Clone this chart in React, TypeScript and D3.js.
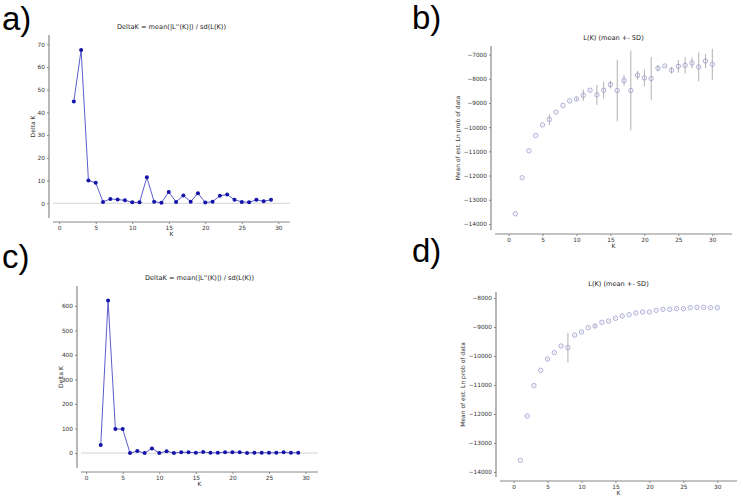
import { useEffect, useRef } from 'react';
import * as d3 from 'd3';

// Panel a) DeltaK, run 1
const kDeltaA = [2, 3, 4, 5, 6, 7, 8, 9, 10, 11, 12, 13, 14, 15, 16, 17, 18, 19, 20, 21, 22, 23, 24, 25, 26, 27, 28, 29];
const deltaA = [44.8, 67.5, 10, 9, 0.6, 1.9, 1.6, 1.3, 0.4, 0.4, 11.4, 0.7, 0.2, 5.0, 0.6, 3.4, 0.7, 4.4, 0.3, 0.7, 3.3, 3.8, 1.5, 0.6, 0.4, 1.5, 0.9, 1.5];

// Panel c) DeltaK, run 2
const kDeltaC = kDeltaA;
const deltaC = [33, 622, 98, 98, 0, 8, 0, 19, 0, 7, 0, 3, 3, 1, 4, 1, 1, 3, 3, 3, 0.5, 1, 1, 1, 1, 3, 1, 1];

// Panel b) L(K) mean +- SD
const kL = d3.range(1, 31);
const meanB = [-13580, -12090, -10977, -10343, -9904, -9682, -9380, -9104, -8914, -8832, -8679, -8473, -8666, -8473, -8238, -8486, -8073, -8486, -7854, -7965, -7990, -7565, -7470, -7648, -7483, -7441, -7346, -7510, -7264, -7400];
const sdB = [10, 15, 10, 10, 15, 227, 15, 15, 15, 60, 235, 20, 412, 344, 165, 1272, 227, 1650, 179, 351, 894, 124, 30, 137, 261, 344, 227, 598, 295, 640];

// Panel d) L(K) mean +- SD
const meanD = [-13597, -12069, -11021, -10493, -10103, -9884, -9655, -9711, -9276, -9172, -9022, -8965, -8838, -8793, -8701, -8621, -8575, -8517, -8483, -8483, -8425, -8391, -8391, -8368, -8368, -8333, -8322, -8322, -8333, -8333];
const sdD = [10, 15, 10, 10, 15, 15, 15, 517, 15, 15, 15, 60, 15, 15, 15, 15, 15, 15, 15, 15, 15, 15, 15, 15, 15, 15, 15, 15, 15, 15];

const xTicks = [0, 5, 10, 15, 20, 25, 30];
const deltaTicksA = [0, 10, 20, 30, 40, 50, 60, 70];
const deltaTicksC = [0, 100, 200, 300, 400, 500, 600];
const lTicksB = [-14000, -13000, -12000, -11000, -10000, -9000, -8000, -7000];
const lTicksD = [-14000, -13000, -12000, -11000, -10000, -9000, -8000];

const TITLE_DELTA = "DeltaK = mean(|L''(K)|) / sd(L(K))";
const TITLE_L = 'L(K) (mean +- SD)';

const FONT = '"DejaVu Sans", sans-serif';

type Panel = {
  letter: string;
  letterX: number;
  letterY: number;
  box: [number, number, number, number]; // left, top, right, bottom
  xDom: [number, number];
  yDom: [number, number];
  yTicks: number[];
  yLabel: string;
  title: string;
  kind: 'delta' | 'lk';
  ks: number[];
  vals: number[];
  sds?: number[];
};

const panels: Panel[] = [
  { letter: 'a)', letterX: 2, letterY: 30, box: [53, 35, 290, 218], xDom: [-0.85, 31.6], yDom: [-6.5, 74.1],
    yTicks: deltaTicksA, yLabel: 'Delta K', title: TITLE_DELTA, kind: 'delta', ks: kDeltaA, vals: deltaA },
  { letter: 'b)', letterX: 412, letterY: 29, box: [495, 46, 732, 230], xDom: [-2, 32.9], yDom: [-14250, -6645],
    yTicks: lTicksB, yLabel: 'Mean of est. Ln prob of data', title: TITLE_L, kind: 'lk', ks: kL, vals: meanB, sds: sdB },
  { letter: 'c)', letterX: 2, letterY: 268, box: [81, 286, 318, 468], xDom: [-0.7, 31.7], yDom: [-61, 681],
    yTicks: deltaTicksC, yLabel: 'Delta K', title: TITLE_DELTA, kind: 'delta', ks: kDeltaC, vals: deltaC },
  { letter: 'd)', letterX: 412, letterY: 262, box: [500, 292, 737, 477], xDom: [-2, 32.9], yDom: [-14172, -7793],
    yTicks: lTicksD, yLabel: 'Mean of est. Ln prob of data', title: TITLE_L, kind: 'lk', ks: kL, vals: meanD, sds: sdD },
];

export default function App() {
  const svgRef = useRef<SVGSVGElement>(null);

  useEffect(() => {
    document.body.style.margin = '0';
    if (!svgRef.current) return;
    const svg = d3.select(svgRef.current);
    svg.selectAll('*').remove();

    panels.forEach(p => {
      const [l, t, r, b] = p.box;
      const x = d3.scaleLinear().domain(p.xDom).range([l, r]);
      const y = d3.scaleLinear().domain(p.yDom).range([b, t]);
      const g = svg.append('g');

      // panel letter
      g.append('text')
        .attr('x', p.letterX).attr('y', p.letterY)
        .attr('font-family', '"Liberation Sans", Arial, sans-serif')
        .attr('font-size', 33)
        .attr('fill', '#000')
        .text(p.letter);

      // title
      g.append('text')
        .attr('x', (l + r) / 2).attr('y', t - 6)
        .attr('text-anchor', 'middle')
        .attr('font-family', FONT).attr('font-size', 6.6).attr('fill', '#222')
        .text(p.title);

      // x axis (offset outward)
      const xAxis = g.append('g')
        .attr('transform', `translate(0,${b + 4})`)
        .call(d3.axisBottom(x).tickValues(xTicks).tickSize(2).tickPadding(2).tickFormat(d3.format('d')));
      // y axis (offset outward)
      const yAxis = g.append('g')
        .attr('transform', `translate(${l - 4},0)`)
        .call(d3.axisLeft(y).tickValues(p.yTicks).tickSize(2).tickPadding(2)
          .tickFormat(d => (+d < 0 ? '\u2212' + Math.abs(+d) : String(d))));
      [xAxis, yAxis].forEach(ax => {
        ax.select('.domain').attr('stroke', '#888').attr('stroke-width', 1.2)
          .attr('d', null);
        ax.selectAll('.tick line').attr('stroke', '#888');
        ax.selectAll('.tick text').attr('font-family', FONT).attr('font-size', 5.8).attr('fill', '#333');
      });
      // spines without end caps
      xAxis.select('.domain').attr('d', `M${l},0H${r}`);
      yAxis.select('.domain').attr('d', `M0,${t}V${b}`);

      // axis labels
      g.append('text')
        .attr('x', (l + r) / 2).attr('y', b + 18)
        .attr('text-anchor', 'middle')
        .attr('font-family', FONT).attr('font-size', 6).attr('fill', '#333')
        .text('K');
      const ylx = p.kind === 'delta' ? l - 18 : l - 35;
      g.append('text')
        .attr('transform', `translate(${ylx},${(t + b) / 2}) rotate(-90)`)
        .attr('text-anchor', 'middle')
        .attr('font-family', FONT).attr('font-size', 6).attr('fill', '#333')
        .text(p.yLabel);

      const pts = p.ks.map((k, i) => ({ k, v: p.vals[i], sd: p.sds ? p.sds[i] : 0 }));

      if (p.kind === 'delta') {
        // zero reference line
        g.append('line')
          .attr('x1', l).attr('x2', r)
          .attr('y1', y(0)).attr('y2', y(0))
          .attr('stroke', '#d4d4d4').attr('stroke-width', 1);

        const line = d3.line<{ k: number; v: number }>().x(d => x(d.k)).y(d => y(d.v));
        g.append('path')
          .datum(pts)
          .attr('d', line)
          .attr('fill', 'none')
          .attr('stroke', '#4a4ac8')
          .attr('stroke-width', 0.9);

        g.selectAll('.dot')
          .data(pts)
          .enter()
          .append('circle')
          .attr('cx', d => x(d.k)).attr('cy', d => y(d.v))
          .attr('r', 2)
          .attr('fill', '#1414a8');
      } else {
        g.selectAll('.err')
          .data(pts)
          .enter()
          .append('line')
          .attr('x1', d => x(d.k)).attr('x2', d => x(d.k))
          .attr('y1', d => y(d.v - d.sd)).attr('y2', d => y(d.v + d.sd))
          .attr('stroke', '#a8a8a8').attr('stroke-width', 0.9);

        g.selectAll('.dot')
          .data(pts)
          .enter()
          .append('circle')
          .attr('cx', d => x(d.k)).attr('cy', d => y(d.v))
          .attr('r', 2.2)
          .attr('fill', 'none')
          .attr('stroke', '#9a9ad0')
          .attr('stroke-width', 0.8);
      }
    });
  }, []);

  return <svg ref={svgRef} width={743} height={496} style={{ display: 'block', background: '#fff' }} />;
}
